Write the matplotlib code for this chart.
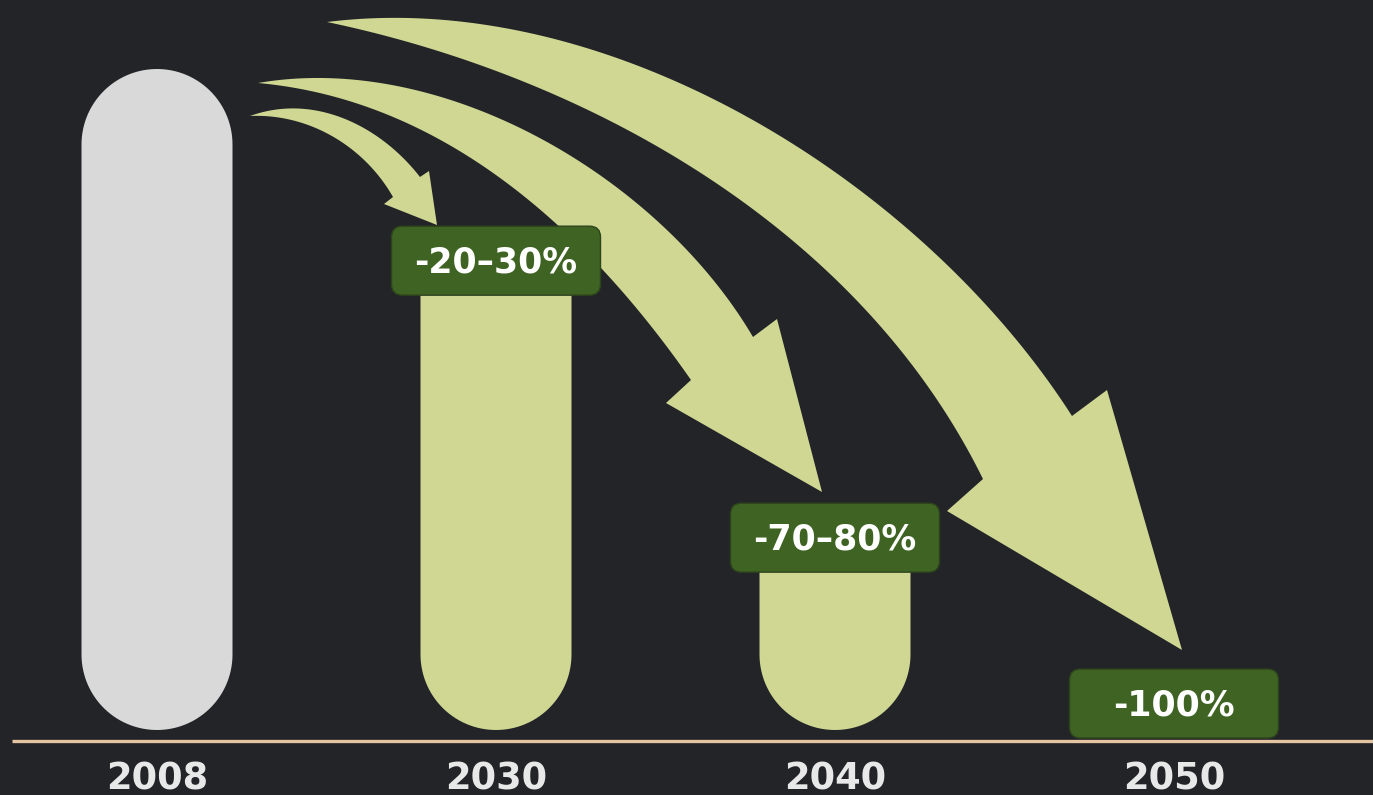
import numpy as np
import matplotlib
matplotlib.use('Agg')
import matplotlib.pyplot as plt
from matplotlib.patches import Polygon, FancyBboxPatch

# data: emissions relative to 2008 (%)
years = ['2008', '2030', '2040', '2050']
emissions = [100, 75, 25, 0]
cuts = ['', '-20–30%', '-70–80%', '-100%']
cut_y = [0, 71.0, 29.1, 4.0]

bg = '#232428'
bar_colors = ['#d9d9d9', '#cfd793', '#cfd793', '#cfd793']
arrow_color = '#cfd793'
box_color = '#3e6323'

# layout: pixel scale of one category step and one percent
px_x = 339.0
px_y = 6.61
x0_px, y0_px = 157.0, 730.0


def px2data(x, y):
    return (x - x0_px) / px_x, (y0_px - y) / px_y


def bar_poly(xc, top, hw, ry, round_top):
    th = np.linspace(np.pi, 2 * np.pi, 60)
    pts = [np.column_stack([xc + hw * np.cos(th), ry + ry * np.sin(th)])]
    if round_top:
        th2 = np.linspace(0, np.pi, 60)
        pts.append(np.column_stack([xc + hw * np.cos(th2), top - ry + ry * np.sin(th2)]))
    else:
        pts.append(np.array([[xc + hw, top], [xc - hw, top]]))
    return np.vstack(pts)


def fit_edge(pts, n=100):
    # least squares cubic bezier through rough guide points, ends fixed
    Q = np.array(pts, float)
    p0, p3 = Q[0], Q[-1]
    d = np.r_[0, np.cumsum(np.hypot(*np.diff(Q, axis=0).T))]
    t = d / d[-1]
    for _ in range(5):
        A = np.column_stack([3 * (1 - t) ** 2 * t, 3 * (1 - t) * t ** 2])
        R = Q - np.outer((1 - t) ** 3, p0) - np.outer(t ** 3, p3)
        (p1, p2), *_ = np.linalg.lstsq(A, R, rcond=None)
        # re-parametrise: nearest point on the current curve
        tt = np.linspace(0, 1, 400)
        C = (np.outer((1 - tt) ** 3, p0) + np.outer(3 * (1 - tt) ** 2 * tt, p1)
             + np.outer(3 * (1 - tt) * tt ** 2, p2) + np.outer(tt ** 3, p3))
        t = tt[np.argmin(((Q[:, None, :] - C[None]) ** 2).sum(-1), axis=1)]
        t[0], t[-1] = 0, 1
    tt = np.linspace(0, 1, n)
    return (np.outer((1 - tt) ** 3, p0) + np.outer(3 * (1 - tt) ** 2 * tt, p1)
            + np.outer(3 * (1 - tt) * tt ** 2, p2) + np.outer(tt ** 3, p3))


def curved_arrow(outer, inner, head):
    pts = np.vstack([fit_edge(outer), head, fit_edge(inner)[::-1]])
    return np.array([px2data(x, y) for x, y in pts])


fig = plt.figure(figsize=(13.73, 7.95), dpi=100)
fig.patch.set_facecolor(bg)
ax = fig.add_axes([0, 0, 1, 1])
ax.set_facecolor(bg)
ax.set_xlim(-x0_px / px_x, (1373 - x0_px) / px_x)
ax.set_ylim((y0_px - 795) / px_y, y0_px / px_y)
ax.axis('off')

xs = np.arange(len(years))
hw = 75.5 / px_x
ry = 75.5 / px_y
for i, v in enumerate(emissions):
    if v <= 0:
        continue
    ax.add_patch(Polygon(bar_poly(xs[i], v, hw, ry, cuts[i] == ''),
                         closed=True, fc=bar_colors[i], ec='none', zorder=1))

# curved arrows from the 2008 bar (guide points in pixels: outer edge, inner edge, head)
arrows = [
    dict(outer=[(250, 116), (290, 109), (320, 111), (363, 127), (397, 153), (420, 177)],
         inner=[(250, 116), (313, 127), (342, 142), (368, 164), (393, 197)],
         head=[(429, 171), (437, 225), (384, 204)]),
    dict(outer=[(258, 83), (313, 75), (400, 87), (500, 120), (603, 178), (700, 262), (753, 337)],
         inner=[(258, 83), (320, 95), (400, 120), (450, 147), (500, 174), (555, 222),
                (641, 318), (691, 380)],
         head=[(777, 319), (822, 492), (666, 403)]),
    dict(outer=[(327, 22), (400, 12), (488, 20), (600, 55), (700, 100), (833, 170),
                (900, 220), (960, 275), (1030, 355), (1072, 416)],
         inner=[(327, 22), (400, 37), (500, 70), (603, 123), (756, 210), (833, 275),
                (880, 322), (930, 397), (983, 479)],
         head=[(1107, 390), (1182, 650), (947, 511)]),
]
for spec in arrows:
    ax.add_patch(Polygon(curved_arrow(**spec), closed=True, fc=arrow_color,
                         ec='none', zorder=2))

# labels in rounded boxes
bw = 209 / px_x
bh = 69 / px_y
for i in range(1, len(years)):
    cx = xs[i]
    cy = cut_y[i]
    ax.add_patch(FancyBboxPatch((cx - bw / 2, cy - bh / 2), bw, bh,
                                boxstyle='round,pad=0,rounding_size=%f' % (11 / px_x),
                                mutation_aspect=px_x / px_y,
                                fc=box_color, ec='#2d431c', lw=1.0, zorder=3))
    ax.text(cx, cy - 12 / px_y, cuts[i], ha='center', va='baseline',
            fontsize=25, fontweight='bold', color='white', zorder=4,
            family='DejaVu Sans')

# baseline and category labels
bx0, by = px2data(12, 741)
ax.plot([bx0, ax.get_xlim()[1]], [by, by], color='#e5c4a1', lw=2.4, zorder=1,
        solid_capstyle='butt')
for i, yr in enumerate(years):
    ax.text(xs[i], px2data(0, 789)[1], yr, ha='center', va='baseline',
            fontsize=26.5, fontweight='bold', color='#e8e8e8', family='DejaVu Sans')

fig.savefig('out.png', dpi=100, facecolor=bg)
